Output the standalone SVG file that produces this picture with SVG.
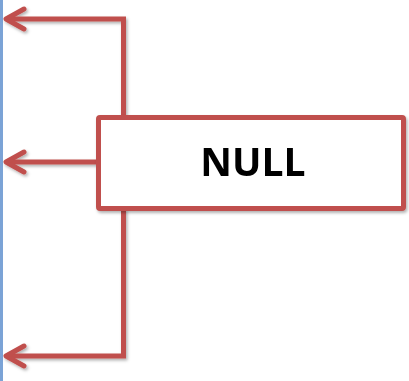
<svg xmlns="http://www.w3.org/2000/svg" width="409" height="381" viewBox="0 0 409 381">
  <defs>
    <filter id="shadow" x="-10%" y="-10%" width="120%" height="120%">
      <feDropShadow dx="1.5" dy="2" stdDeviation="1.5" flood-color="#000" flood-opacity="0.3"/>
    </filter>
    <style>
      .wire { fill: none; stroke: #C0504D; stroke-width: 5; stroke-linejoin: miter; }
      .head { fill: none; stroke: #C0504D; stroke-width: 5; stroke-linecap: round; stroke-linejoin: round; }
      .box { fill: #FFFFFF; stroke: #C0504D; stroke-width: 5; }
      .label { font-family: "Open Sans", "Liberation Sans", sans-serif; font-weight: bold; font-size: 39px; fill: #000; }
    </style>
  </defs>

  <!-- left edge strip -->
  <rect x="0" y="0" width="3" height="381" fill="#7BA3D6"/>

  <g id="connectors" filter="url(#shadow)">
    <!-- upper branch -->
    <polyline class="wire" points="123.5,117 123.5,19 6,19"/>
    <path class="head" d="M 24 9 L 6 19 L 24 29"/>
    <!-- middle branch -->
    <line class="wire" x1="98" y1="162" x2="6" y2="162"/>
    <path class="head" d="M 24 152 L 6 162 L 24 172"/>
    <!-- lower branch -->
    <polyline class="wire" points="123.5,209 123.5,356 6,356"/>
    <path class="head" d="M 24 346 L 6 356 L 24 366"/>
  </g>

  <g id="null-node" filter="url(#shadow)">
    <rect class="box" x="98.5" y="117.5" width="305" height="91" rx="1.5"/>
    <text class="label" x="253" y="176" text-anchor="middle">NULL</text>
  </g>
</svg>
